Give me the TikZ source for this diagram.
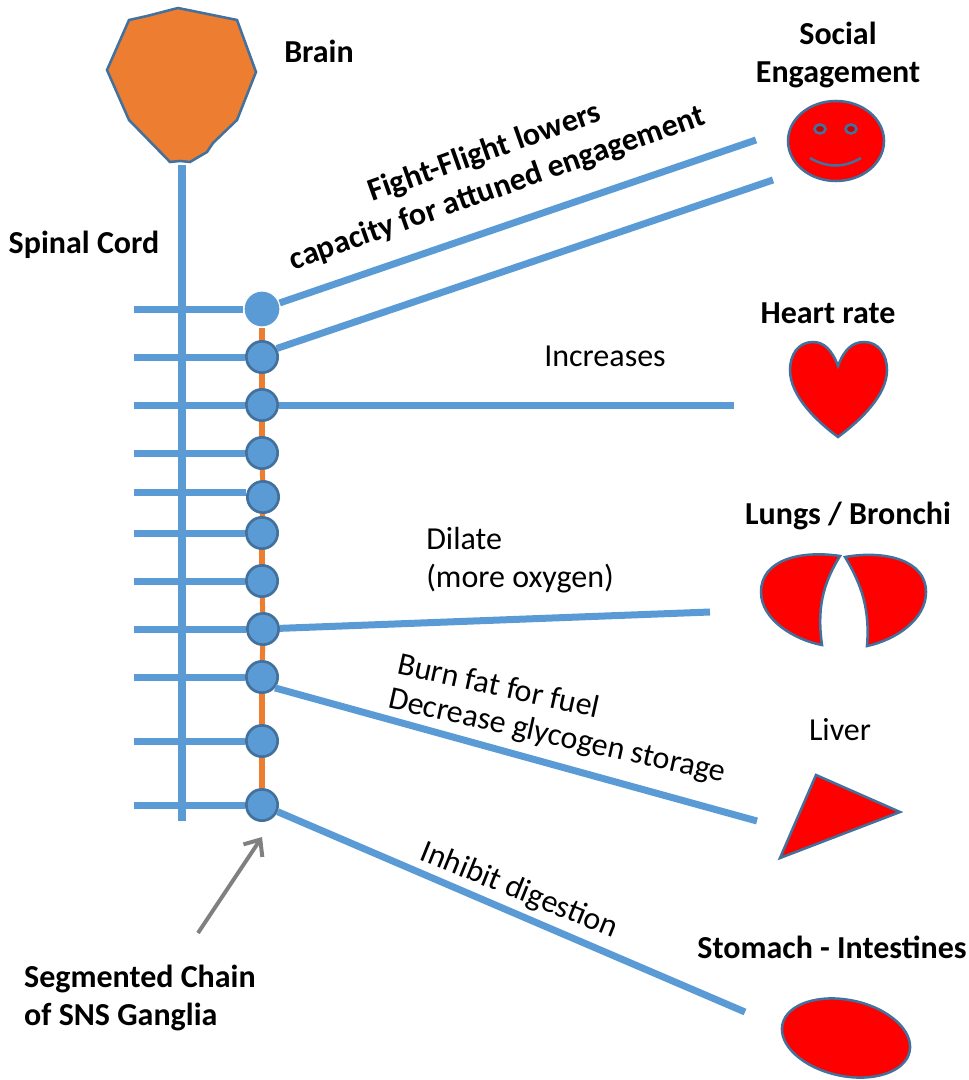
\documentclass[tikz,border=0pt]{standalone}
\usepackage{fontspec}
\setmainfont{Carlito}
\usetikzlibrary{arrows.meta}
\definecolor{nerve}{HTML}{5B9BD5}
\definecolor{edge}{HTML}{41719C}
\definecolor{chain}{HTML}{ED7D31}
\begin{document}
\begin{tikzpicture}[
  x=0.75pt, y=-0.75pt,
  font=\fontsize{24}{28.5}\selectfont,
  label/.style={align=center, inner sep=0pt},
  title/.style={label, font=\fontsize{24}{28.5}\selectfont\bfseries},
  ganglion/.style={circle, draw=edge, fill=nerve, line width=2pt, minimum size=23.5pt, inner sep=0pt},
  organ/.style={draw=edge, fill=red, line width=1.9pt},
  nerveline/.style={draw=nerve, line width=5.25pt},
  chainline/.style={draw=chain, line width=3.8pt},
  pointer/.style={draw=gray, line width=3pt, -{Straight Barb[length=10pt, width=17pt, line width=3pt]}}
]
  \useasboundingbox (0,0) rectangle (969,1080);

  \node[ganglion, draw=none, minimum size=26pt] (g1) at (262,309) {};
  \node[ganglion] (g2) at (262,357) {};
  \node[ganglion] (g3) at (262,405) {};
  \node[ganglion] (g4) at (262,453) {};
  \node[ganglion] (g5) at (263,497) {};
  \node[ganglion] (g6) at (262,533) {};
  \node[ganglion] (g7) at (262,581) {};
  \node[ganglion] (g8) at (263,629) {};
  \node[ganglion] (g9) at (262,677) {};
  \node[ganglion] (g10) at (262,741) {};
  \node[ganglion] (g11) at (262,805) {};

  \coordinate (root1) at (134,309);
  \coordinate (root2) at (134,357);
  \coordinate (root3) at (134,405);
  \coordinate (root4) at (134,453);
  \coordinate (root5) at (134,492);
  \coordinate (root6) at (134,533);
  \coordinate (root7) at (134,581);
  \coordinate (root8) at (134,629);
  \coordinate (root9) at (134,677);
  \coordinate (root10) at (134,741);
  \coordinate (root11) at (134,805);
  \coordinate (spinetop) at (182,165);
  \coordinate (spinebottom) at (182,821);
  \coordinate (faceupper) at (756,140);
  \coordinate (facelower) at (773,180);
  \coordinate (heartend) at (734,405);
  \coordinate (lungsend) at (710,612);
  \coordinate (liverend) at (757,821);
  \coordinate (stomachend) at (745,1012);
  \coordinate (pointerstart) at (198,933);
  \coordinate (pointerend) at (262,837);

  \draw[nerveline, line width=6pt] (spinetop) -- (spinebottom);
  \draw[nerveline] (root1) -- (g1);
  \draw[nerveline] (root2) -- (g2);
  \draw[nerveline] (root3) -- (g3);
  \draw[nerveline] (root4) -- (g4);
  \draw[nerveline] (root5) -- (root5 -| g5.west);
  \draw[nerveline] (root6) -- (g6);
  \draw[nerveline] (root7) -- (g7);
  \draw[nerveline] (root8) -- (g8);
  \draw[nerveline] (root9) -- (g9);
  \draw[nerveline] (root10) -- (g10);
  \draw[nerveline] (root11) -- (g11);

  \draw[chainline] (g1) -- (g2);
  \draw[chainline] (g2) -- (g3);
  \draw[chainline] (g3) -- (g4);
  \draw[chainline] (g4) -- (g5);
  \draw[chainline] (g5) -- (g6);
  \draw[chainline] (g6) -- (g7);
  \draw[chainline] (g7) -- (g8);
  \draw[chainline] (g8) -- (g9);
  \draw[chainline] (g9) -- (g10);
  \draw[chainline] (g10) -- (g11);

  \draw[nerveline] (g1) -- (faceupper);
  \draw[nerveline] (g2.30) -- (facelower);
  \draw[nerveline] (g3) -- (heartend);
  \draw[nerveline] (g8) -- (lungsend);
  \draw[nerveline] (g9.-40) -- (liverend);
  \draw[nerveline] (g11) -- (stomachend);
  \draw[pointer] (pointerstart) -- (pointerend);

  % brain
  \draw[organ, fill=chain] (178,8) -- (237,20) -- (256,72) -- (237,120) -- (213,143) -- (207,152) -- (190,162) -- (180,161) -- (170,162) -- (129,120) -- (107,70) -- (129,20) -- (147,16) -- cycle;

  % face
  \draw[organ] (836,141) ellipse (48 and 40);
  \draw[organ, fill=red!80!black] (820,129) ellipse (5.5 and 4.5);
  \draw[organ, fill=red!80!black] (851,129) ellipse (5.5 and 4.5);
  \draw[organ, fill=none] (810,158) .. controls (827,168) and (844,168) .. (861,158);

  % heart
  \draw[organ] (838,366) .. controls (832,350) and (824,342) .. (813,342) .. controls (798,342) and (790,355) .. (790,370) .. controls (790,395) and (815,420) .. (838,437) .. controls (861,420) and (887,395) .. (887,370) .. controls (887,355) and (879,342) .. (864,342) .. controls (852,342) and (844,350) .. (838,366) -- cycle;

  % lungs
  \draw[organ] (840,556) .. controls (800,550) and (761,560) .. (761,592) .. controls (761,620) and (795,640) .. (822,645) .. controls (817,610) and (822,585) .. (840,556) -- cycle;
  \draw[organ] (845,557) .. controls (885,550) and (926,560) .. (926,592) .. controls (926,620) and (895,640) .. (867,646) .. controls (870,610) and (862,585) .. (845,557) -- cycle;

  % liver
  \draw[organ] (816,775) -- (900,812) -- (780,858) -- cycle;

  % stomach
  \draw[organ, rotate around={-12:(846,1038)}] (846,1038) ellipse (65 and 38);

  \node[title] (brain) at (319,51) {Brain};
  \node[title] (social) at (838,55) {Social\\Engagement};
  \node[title] (spinal) at (84,245) {Spinal Cord};
  \node[title] (heart) at (828,313) {Heart rate};
  \node[title] (lungs) at (848,516) {Lungs / Bronchi};
  \node[title] (stomach) at (832,947) {Stomach - Intestines};
  \node[title, align=left] (segmented) at (140,998) {Segmented Chain\\of SNS Ganglia};
  \node[title, rotate=19.5] (fight) at (491,171) {Fight-Flight lowers\\capacity for attuned engagement};
  \node[label] (increases) at (605,356) {Increases};
  \node[label, align=left] (dilate) at (520,560) {Dilate\\(more oxygen)};
  \node[label, rotate=-12.5] (burn) at (499,685) {Burn fat for fuel};
  \node[label, rotate=-12.5] (decrease) at (557,737) {Decrease glycogen storage};
  \node[label] (liver) at (840,730) {Liver};
  \node[label, rotate=-22] (inhibit) at (519,891) {Inhibit digestion};
\end{tikzpicture}
\end{document}
